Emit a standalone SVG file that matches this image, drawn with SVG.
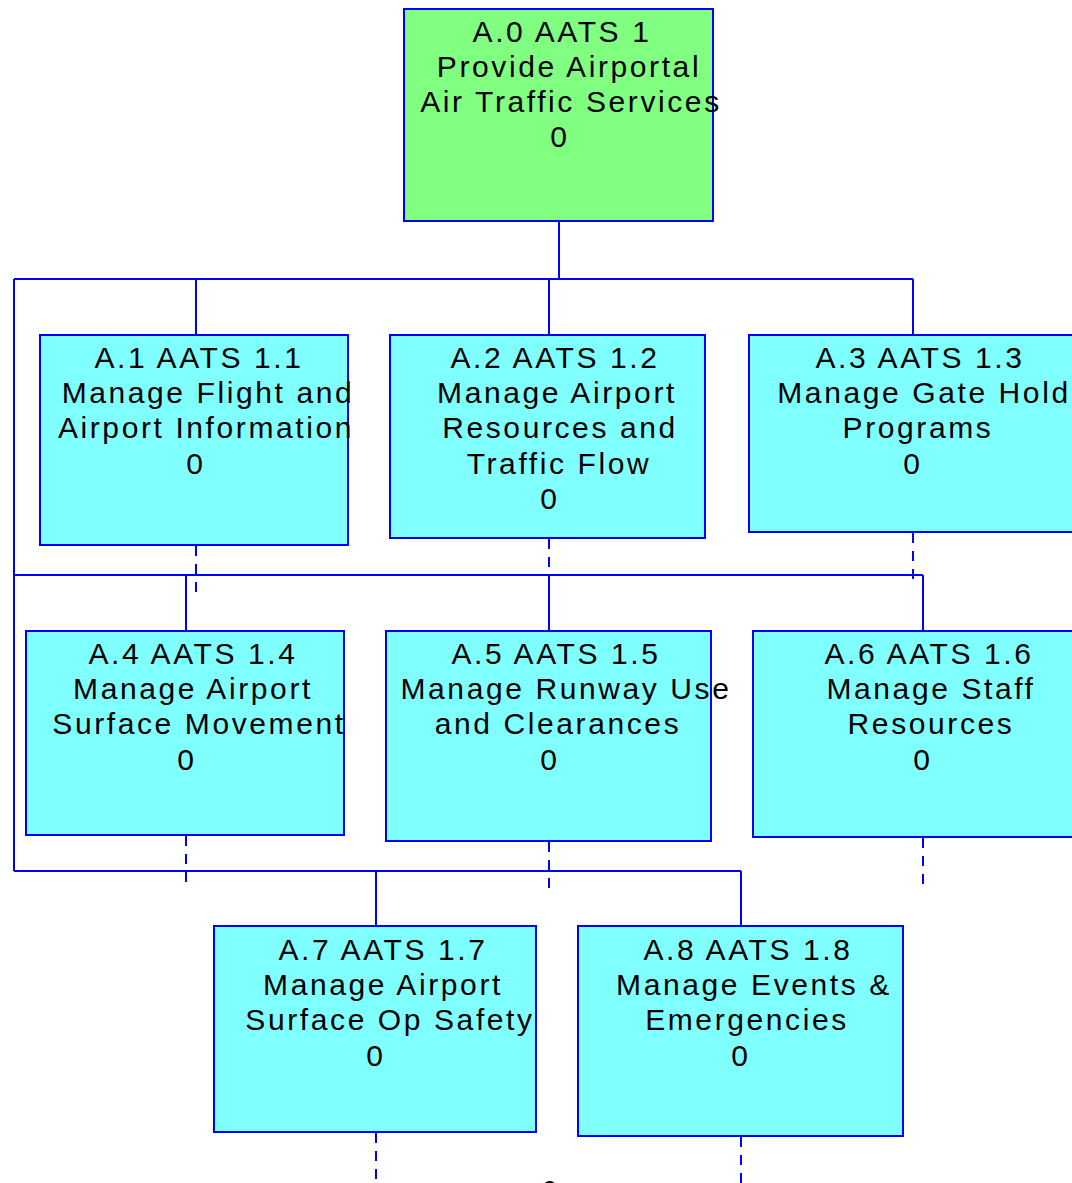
<svg xmlns="http://www.w3.org/2000/svg" width="1072" height="1183" viewBox="0 0 1072 1183">
  <style>
    .box { stroke: #0000FF; stroke-width: 2; }
    .root { fill: #80FF80; }
    .leaf { fill: #80FFFF; }
    .lbl { font-family: "Liberation Sans", Arial, sans-serif; font-size: 30px; letter-spacing: 2.6px; fill: #000000; text-anchor: middle; }
    .wire { stroke: #0000FF; stroke-width: 2; fill: none; }
    .stub { stroke: #0000FF; stroke-width: 2; fill: none; stroke-dasharray: 10 8; }
  </style>
  <rect width="1072" height="1183" fill="#FFFFFF"/>

  <!-- tree connectors -->
  <g id="connectors">
    <path class="wire" d="M559 221 V279 M14 279 H913 M196 279 V335 M549 279 V335 M913 279 V335 M14 279 V871"/>
    <path class="wire" d="M14 575 H923 M186 575 V631 M549 575 V631 M923 575 V631"/>
    <path class="wire" d="M14 871 H741 M376 871 V926 M741 871 V926"/>
    <path class="stub" d="M196 546 V596 M549 539 V590 M913 533 V584 M186 836 V886 M549 842 V892 M923 838 V888 M376 1133 V1183 M741 1137 V1183"/>
  </g>

  <g id="A0">
    <rect class="box root" x="404" y="9" width="309" height="212"/>
    <text class="lbl"><tspan x="562" y="42">A.0 AATS 1</tspan><tspan x="569" y="77">Provide Airportal</tspan><tspan x="571" y="112">Air Traffic Services</tspan><tspan x="560" y="147">0</tspan></text>
  </g>

  <g id="A1">
    <rect class="box leaf" x="40" y="335" width="308" height="210"/>
    <text class="lbl"><tspan x="199" y="368">A.1 AATS 1.1</tspan><tspan x="208" y="403">Manage Flight and</tspan><tspan x="206" y="438">Airport Information</tspan><tspan x="196" y="474">0</tspan></text>
  </g>

  <g id="A2">
    <rect class="box leaf" x="390" y="335" width="315" height="203"/>
    <text class="lbl"><tspan x="555" y="368">A.2 AATS 1.2</tspan><tspan x="557" y="403">Manage Airport</tspan><tspan x="560" y="438">Resources and</tspan><tspan x="559" y="474">Traffic Flow</tspan><tspan x="550" y="509">0</tspan></text>
  </g>

  <g id="A3">
    <rect class="box leaf" x="749" y="335" width="326" height="197"/>
    <text class="lbl"><tspan x="920" y="368">A.3 AATS 1.3</tspan><tspan x="924" y="403">Manage Gate Hold</tspan><tspan x="918" y="438">Programs</tspan><tspan x="913" y="474">0</tspan></text>
  </g>

  <g id="A4">
    <rect class="box leaf" x="26" y="631" width="318" height="204"/>
    <text class="lbl"><tspan x="193" y="664">A.4 AATS 1.4</tspan><tspan x="193" y="699">Manage Airport</tspan><tspan x="199" y="734">Surface Movement</tspan><tspan x="187" y="770">0</tspan></text>
  </g>

  <g id="A5">
    <rect class="box leaf" x="386" y="631" width="325" height="210"/>
    <text class="lbl"><tspan x="556" y="664">A.5 AATS 1.5</tspan><tspan x="566" y="699">Manage Runway Use</tspan><tspan x="558" y="734">and Clearances</tspan><tspan x="550" y="770">0</tspan></text>
  </g>

  <g id="A6">
    <rect class="box leaf" x="753" y="631" width="338" height="206"/>
    <text class="lbl"><tspan x="929" y="664">A.6 AATS 1.6</tspan><tspan x="931" y="699">Manage Staff</tspan><tspan x="931" y="734">Resources</tspan><tspan x="923" y="770">0</tspan></text>
  </g>

  <g id="A7">
    <rect class="box leaf" x="214" y="926" width="322" height="206"/>
    <text class="lbl"><tspan x="383" y="960">A.7 AATS 1.7</tspan><tspan x="383" y="995">Manage Airport</tspan><tspan x="390" y="1030">Surface Op Safety</tspan><tspan x="376" y="1066">0</tspan></text>
  </g>

  <g id="A8">
    <rect class="box leaf" x="578" y="926" width="325" height="210"/>
    <text class="lbl"><tspan x="748" y="960">A.8 AATS 1.8</tspan><tspan x="754" y="995">Manage Events &amp;</tspan><tspan x="747" y="1030">Emergencies</tspan><tspan x="741" y="1066">0</tspan></text>
  </g>

  <!-- page number, running off the bottom edge -->
  <text class="lbl" x="549" y="1200" style="font-size:28px;letter-spacing:0">6</text>
</svg>
